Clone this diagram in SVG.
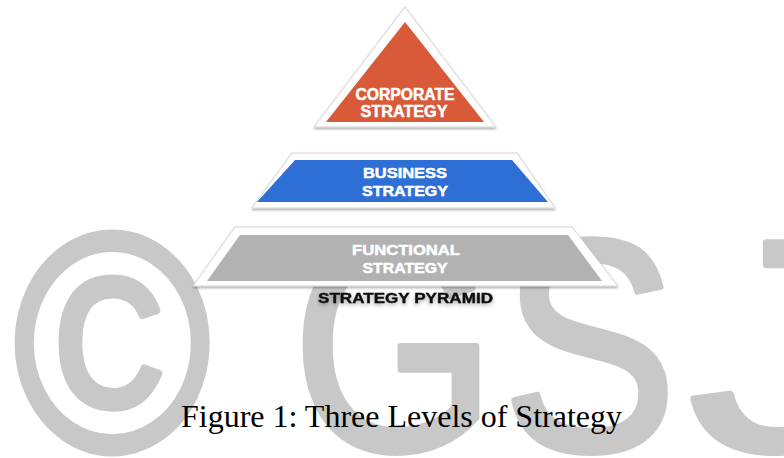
<svg xmlns="http://www.w3.org/2000/svg" width="784" height="458" viewBox="0 0 784 458">
  <defs>
    <filter id="shadow" x="-10%" y="-10%" width="120%" height="130%">
      <feDropShadow dx="0" dy="1.5" stdDeviation="1.2" flood-color="#000" flood-opacity="0.35"/>
    </filter>
    <filter id="textshadow" x="-10%" y="-40%" width="120%" height="200%">
      <feDropShadow dx="0" dy="2" stdDeviation="2" flood-color="#000" flood-opacity="0.35"/>
    </filter>
    <style>
      .wm { font-family: "Liberation Sans", Arial, sans-serif; font-size: 302px; fill: #c8c8c8; stroke: #c8c8c8; stroke-width: 6; stroke-linejoin: round; }
      .frame { fill: #ffffff; stroke: #d4d4d4; stroke-width: 1; filter: url(#shadow); }
      .lbl { font-family: "Liberation Sans", Arial, Helvetica, sans-serif; font-weight: bold; fill: #ffffff; stroke: #ffffff; stroke-width: 0.5; text-anchor: middle; }
      .cap { font-family: "Liberation Serif", "Times New Roman", serif; font-size: 32px; fill: #000000; }
    </style>
  </defs>
  <rect width="784" height="458" fill="#ffffff"/>

  <g id="watermark">
    <text class="wm" style="font-size:310px;stroke-width:8" transform="translate(14,450) scale(0.86,1)">©</text>
    <text class="wm" transform="translate(292,450) scale(0.87,1)">G</text>
    <text class="wm" transform="translate(502,450) scale(0.87,1)">S</text>
    <text class="wm" transform="translate(688,450) scale(1.3,1)">J</text>
  </g>

  <g id="connectors"></g>

  <g id="node-corporate">
    <polygon class="frame" points="405,7 496,127 314,127"/>
    <polygon points="405,22 484,122 326,122" fill="#d85a38"/>
    <text class="lbl" x="405" y="100" font-size="16" textLength="99" lengthAdjust="spacingAndGlyphs">CORPORATE</text>
    <text class="lbl" x="404" y="117" font-size="16" textLength="87" lengthAdjust="spacingAndGlyphs">STRATEGY</text>
  </g>

  <g id="node-business">
    <polygon class="frame" points="292,153 517,153 555,208 252,208"/>
    <polygon points="295,160 512,160 548,202 257,202" fill="#2d6fd5"/>
    <text class="lbl" x="405" y="177.7" font-size="15" textLength="84" lengthAdjust="spacingAndGlyphs">BUSINESS</text>
    <text class="lbl" x="405" y="195.7" font-size="15" textLength="86" lengthAdjust="spacingAndGlyphs">STRATEGY</text>
  </g>

  <g id="node-functional">
    <polygon class="frame" points="235,227 572,227 618,286 193,286"/>
    <polygon points="240,235 568,235 602,281 207,281" fill="#b2b2b2"/>
    <text class="lbl" x="406" y="255" font-size="15" textLength="108" lengthAdjust="spacingAndGlyphs">FUNCTIONAL</text>
    <text class="lbl" x="405" y="272.7" font-size="15" textLength="85" lengthAdjust="spacingAndGlyphs">STRATEGY</text>
  </g>

  <g id="title">
    <text x="405.5" y="303.3" font-family="'Liberation Sans', Arial, sans-serif" font-weight="bold" font-size="15" fill="#111111" stroke="#111111" stroke-width="0.4" text-anchor="middle" textLength="175" lengthAdjust="spacingAndGlyphs" filter="url(#textshadow)">STRATEGY PYRAMID</text>
  </g>

  <g id="caption">
    <text class="cap" x="181" y="427" textLength="441" lengthAdjust="spacingAndGlyphs">Figure 1: Three Levels of Strategy</text>
  </g>
</svg>
